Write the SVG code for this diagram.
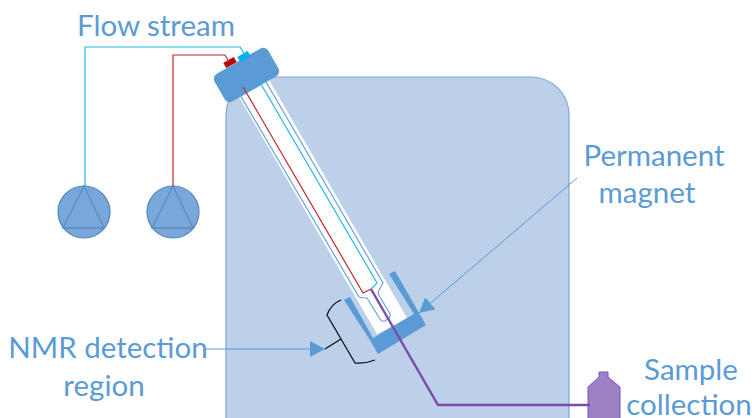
<svg xmlns="http://www.w3.org/2000/svg" width="752" height="418" viewBox="0 0 752 418">
<style>
text{font-family:"Lato","Liberation Sans",sans-serif;font-size:29.500px;fill:#5B9BD5;text-anchor:middle}
.pump{fill:#79A7DA;stroke:#4F86BD;stroke-width:1.2}
.tri{fill:none;stroke:#5A8DBE;stroke-width:1.3}
.blue{fill:none;stroke:#6A9FD8;stroke-width:1.2}
.mag{fill:#5B9BD5}
.bk{fill:none;stroke:#111;stroke-width:1.3}
.ar{fill:none;stroke:#5B9BD5;stroke-width:1}
</style>
<defs><marker id="ah" markerUnits="userSpaceOnUse" markerWidth="16" markerHeight="16" refX="15" refY="8" orient="auto"><path d="M0 0L15 8L0 16Z" fill="#5B9BD5"/></marker></defs>
<g id="magnet-block"><rect x="226" y="77" width="343" height="380" rx="38" fill="#BCD0EA" stroke="#7FA6D6" stroke-width="1.2"/></g>
<g id="probe">
<path d="M232 85L377 334L407 318L261 66Z" fill="#fff"/>
<path class="blue" d="M236 88L359 297Q363 298 367 298L380 319Q382 322 385 321L389 318Q391 316 390 314L380 297Q377 293 379 290L383 283L262 75"/>
</g>
<g id="magnet" class="mag"><path d="M344 300L350 297L373 338L414 314L389 274L395 271L426 325L378 354L368 337Z"/></g>
<g id="cap"><rect x="215.500" y="59" width="62" height="32" rx="6" fill="#5B9BD5" transform="rotate(-30 246.500 75)"/>
<rect x="224" y="59.500" width="12" height="6" fill="#C00000" transform="rotate(-30 230 62.500)"/>
<rect x="238" y="53.500" width="12" height="6" fill="#00B0F0" transform="rotate(-30 244 56.500)"/></g>
<g id="pump1"><circle class="pump" cx="84" cy="212" r="26"/><path class="tri" d="M84 186L63 228H104Z"/></g>
<g id="pump2"><circle class="pump" cx="173" cy="212" r="26"/><path class="tri" d="M173 186L152 228H193Z"/></g>
<g id="bottle"><path d="M599 372H608V377L620 387V430H588V387L599 377Z" fill="#9B80C4" stroke="#7E57B5" stroke-width="1"/></g>
<g id="connectors">
<path d="M85 186V47H240L245 55" fill="none" stroke="#22B5EE" stroke-width="1.200"/>
<path d="M173 186V55H225L229 62" fill="none" stroke="#C0272D" stroke-width="1.200"/>
<path d="M258 79L377 283L371 289" fill="none" stroke="#22B5EE" stroke-width="1.200"/>
<path d="M243 87L363 293L371 289" fill="none" stroke="#C0272D" stroke-width="1.200"/>
<path d="M371 289L438 405H590" fill="none" stroke="#7A4CA8" stroke-width="2.400"/>
<path class="bk" d="M341 300Q331 304 327 315L355 363Q365 364 375 360M341 339L325 349"/>
<path class="ar" d="M205 349H325" marker-end="url(#ah)"/>
<path class="ar" d="M577 178L419 313" marker-end="url(#ah)"/>
</g>
<g id="labels">
<text x="156" y="36">Flow stream</text>
<text x="654" y="166">Permanent</text>
<text x="647" y="203">magnet</text>
<text x="108" y="358">NMR detection</text>
<text x="104" y="396">region</text>
<text x="691" y="380">Sample</text>
<text x="689" y="415">collection</text>
</g>
</svg>
